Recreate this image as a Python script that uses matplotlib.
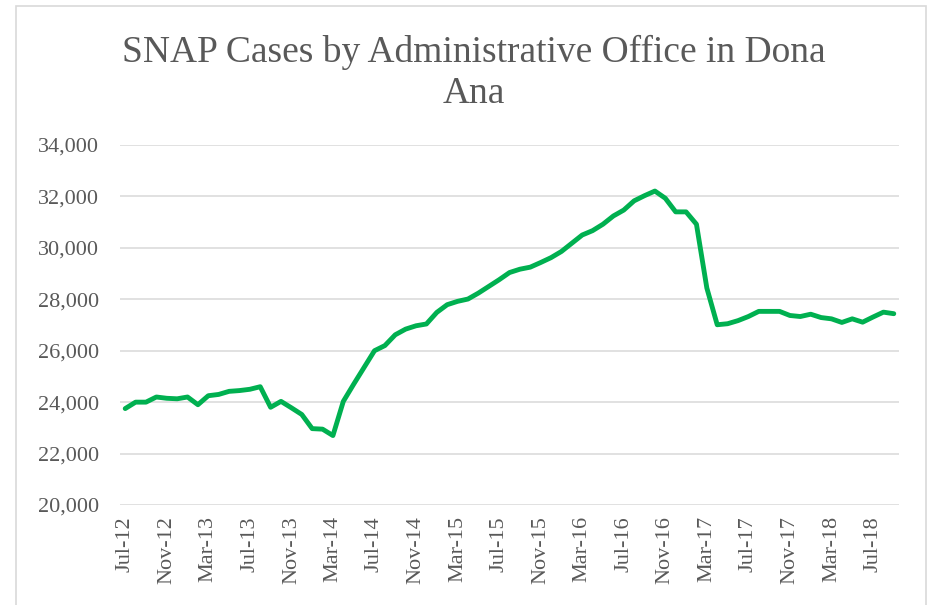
import numpy as np
import matplotlib.pyplot as plt
from matplotlib.patches import Rectangle

# monthly SNAP cases, Jul-12 .. Sep-18
months = ["Jul-12", "Aug-12", "Sep-12", "Oct-12", "Nov-12", "Dec-12",
          "Jan-13", "Feb-13", "Mar-13", "Apr-13", "May-13", "Jun-13",
          "Jul-13", "Aug-13", "Sep-13", "Oct-13", "Nov-13", "Dec-13",
          "Jan-14", "Feb-14", "Mar-14", "Apr-14", "May-14", "Jun-14",
          "Jul-14", "Aug-14", "Sep-14", "Oct-14", "Nov-14", "Dec-14",
          "Jan-15", "Feb-15", "Mar-15", "Apr-15", "May-15", "Jun-15",
          "Jul-15", "Aug-15", "Sep-15", "Oct-15", "Nov-15", "Dec-15",
          "Jan-16", "Feb-16", "Mar-16", "Apr-16", "May-16", "Jun-16",
          "Jul-16", "Aug-16", "Sep-16", "Oct-16", "Nov-16", "Dec-16",
          "Jan-17", "Feb-17", "Mar-17", "Apr-17", "May-17", "Jun-17",
          "Jul-17", "Aug-17", "Sep-17", "Oct-17", "Nov-17", "Dec-17",
          "Jan-18", "Feb-18", "Mar-18", "Apr-18", "May-18", "Jun-18",
          "Jul-18", "Aug-18", "Sep-18"]
cases = [23750, 24000, 24000, 24200, 24150, 24130,
         24200, 23900, 24250, 24300, 24420, 24450,
         24500, 24600, 23800, 24030, 23780, 23520,
         22970, 22950, 22700, 24030, 24700, 25350,
         26000, 26200, 26620, 26840, 26970, 27040,
         27490, 27790, 27920, 28010, 28240, 28500,
         28760, 29040, 29170, 29250, 29430, 29620,
         29860, 30180, 30500, 30670, 30920, 31240,
         31470, 31830, 32030, 32210, 31930, 31400,
         31400, 30920, 28440, 27010, 27050, 27170,
         27330, 27530, 27530, 27530, 27370, 27330,
         27420, 27290, 27240, 27100, 27240, 27110,
         27310, 27500, 27440]
title_lines = ["SNAP Cases by Administrative Office in Dona", "Ana"]
yticks = list(range(20000, 34001, 2000))

plt.rcParams['font.family'] = ['Liberation Serif', 'DejaVu Serif']
grey = '#595959'

fig = plt.figure(figsize=(9.34, 6.05), dpi=100)
ax = fig.add_axes([0.1285, 0.1653, 0.834, 0.595])

x = np.arange(len(cases))
ax.plot(x, cases, color='#00B050', lw=3.5, solid_joinstyle='round', solid_capstyle='round', zorder=3)

ax.set_xlim(-0.5, len(cases) - 0.5)
ax.set_ylim(20000, 34000)
ax.set_yticks(yticks)
ax.set_yticklabels(["{:,}".format(v) for v in yticks])
ax.set_xticks(x[::4])
ax.set_xticklabels(months[::4], rotation=90)
ax.grid(axis='y', color='#D9D9D9', lw=1.1)
ax.set_axisbelow(True)
for s in ax.spines.values():
    s.set_visible(False)
ax.tick_params(axis='both', length=0, labelsize=16, labelcolor=grey)
ax.tick_params(axis='y', pad=15)
ax.tick_params(axis='x', pad=8)

# title, two lines centred over the chart
fig.text(0.507, 1 - 61.7 / 605, title_lines[0], ha='center', va='baseline', fontsize=27, color=grey)
fig.text(0.507, 1 - 103 / 605, title_lines[1], ha='center', va='baseline', fontsize=27, color=grey)

# chart area border
fig.patches.append(Rectangle((16 / 934, -0.02), 910 / 934, 1 - 6 / 605 + 0.02,
                             transform=fig.transFigure, fill=False, ec='#D9D9D9', lw=1.2))

fig.savefig("out.png", dpi=100)
